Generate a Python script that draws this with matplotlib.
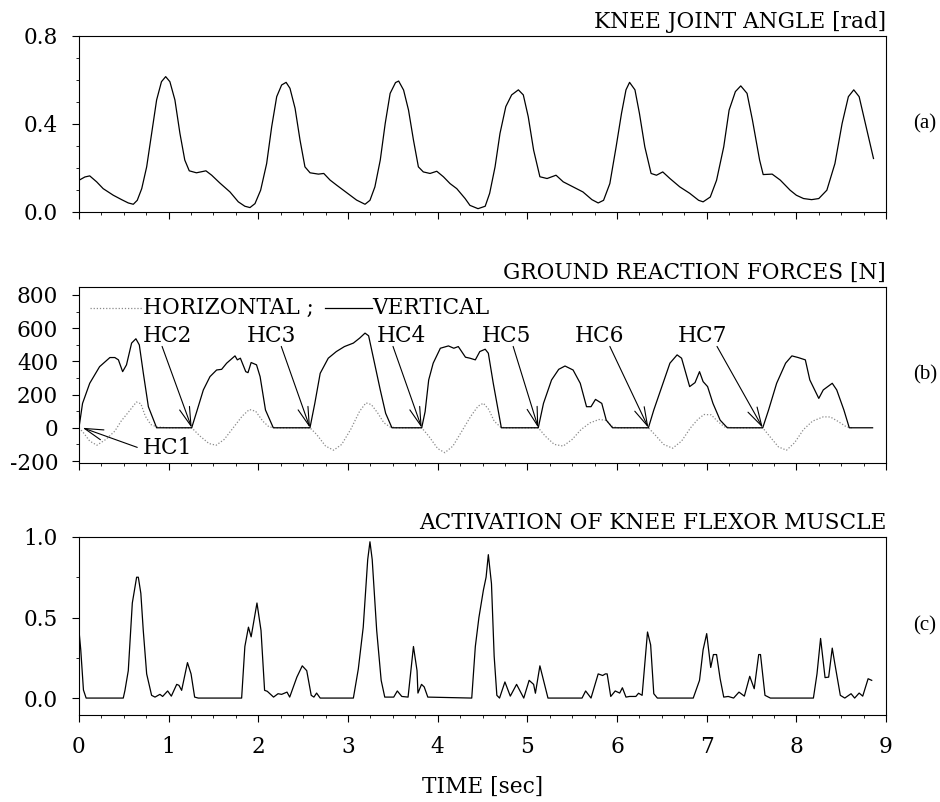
import numpy as np
import matplotlib.pyplot as plt
from matplotlib.ticker import MultipleLocator

plt.rcParams['font.family'] = ['DejaVu Serif']
plt.rcParams['axes.unicode_minus'] = False

# (a) knee joint angle [rad]
angle_t = [0.0, 0.066, 0.12, 0.197, 0.27, 0.383, 0.476, 0.55, 0.606, 0.65, 0.70, 0.755, 0.81, 0.866, 0.92, 0.967,
           1.014, 1.07, 1.126, 1.18, 1.23, 1.31, 1.416, 1.48, 1.57, 1.684, 1.777, 1.85, 1.907, 1.963, 2.026, 2.093,
           2.149, 2.205, 2.26, 2.31, 2.353, 2.41, 2.465, 2.52, 2.577, 2.67, 2.73, 2.80, 2.873, 2.985, 3.096, 3.19,
           3.245, 3.30, 3.36, 3.415, 3.47, 3.53, 3.565, 3.62, 3.675, 3.73, 3.785, 3.84, 3.915, 3.99, 4.064, 4.138,
           4.213, 4.306, 4.36, 4.45, 4.53, 4.58, 4.64, 4.695, 4.76, 4.825, 4.90, 4.955, 5.01, 5.07, 5.14, 5.22,
           5.32, 5.40, 5.51, 5.62, 5.72, 5.79, 5.85, 5.92, 5.99, 6.05, 6.10, 6.14, 6.20, 6.25, 6.31, 6.38, 6.44,
           6.51, 6.59, 6.70, 6.81, 6.91, 6.96, 7.04, 7.11, 7.19, 7.25, 7.32, 7.38, 7.45, 7.51, 7.59, 7.63, 7.73,
           7.82, 7.93, 8.00, 8.08, 8.17, 8.25, 8.34, 8.43, 8.51, 8.58, 8.64, 8.70, 8.77, 8.86]
angle_v = [0.144, 0.159, 0.164, 0.137, 0.106, 0.076, 0.056, 0.041, 0.035, 0.053, 0.106, 0.205, 0.357, 0.509, 0.592,
           0.615, 0.592, 0.509, 0.357, 0.236, 0.187, 0.178, 0.187, 0.167, 0.132, 0.091, 0.046, 0.026, 0.020, 0.038,
           0.099, 0.220, 0.387, 0.524, 0.577, 0.589, 0.562, 0.471, 0.327, 0.205, 0.178, 0.172, 0.175, 0.145, 0.122,
           0.088, 0.054, 0.035, 0.053, 0.114, 0.236, 0.402, 0.539, 0.588, 0.595, 0.554, 0.463, 0.327, 0.205, 0.182,
           0.175, 0.185, 0.160, 0.129, 0.106, 0.061, 0.030, 0.015, 0.026, 0.085, 0.205, 0.357, 0.479, 0.532, 0.555,
           0.532, 0.433, 0.281, 0.160, 0.152, 0.167, 0.137, 0.114, 0.091, 0.056, 0.041, 0.053, 0.129, 0.296, 0.448,
           0.555, 0.589, 0.555, 0.448, 0.296, 0.175, 0.167, 0.182, 0.152, 0.114, 0.085, 0.053, 0.046, 0.068, 0.144,
           0.296, 0.463, 0.547, 0.573, 0.539, 0.418, 0.236, 0.170, 0.172, 0.145, 0.099, 0.076, 0.061, 0.056, 0.061,
           0.099, 0.220, 0.402, 0.524, 0.555, 0.524, 0.402, 0.243]

# (b) ground reaction forces [N]
vert_t = [0.0, 0.04, 0.12, 0.23, 0.345, 0.40, 0.44, 0.487, 0.53, 0.587, 0.635, 0.673, 0.718, 0.774, 0.866,
          1.257, 1.313, 1.387, 1.461, 1.535, 1.591, 1.647, 1.74, 1.766, 1.80, 1.86, 1.885, 1.92, 1.98, 2.02, 2.08,
          2.167, 2.576, 2.63, 2.69, 2.78, 2.87, 2.96, 3.06, 3.13, 3.19, 3.23, 3.28, 3.36, 3.42, 3.49,
          3.822, 3.86, 3.90, 3.95, 4.03, 4.12, 4.18, 4.23, 4.31, 4.36, 4.42, 4.47, 4.53, 4.565, 4.62, 4.71,
          5.122, 5.18, 5.27, 5.35, 5.42, 5.51, 5.59, 5.66, 5.71, 5.76, 5.83, 5.88, 5.95,
          6.35, 6.41, 6.50, 6.59, 6.67, 6.72, 6.81, 6.87, 6.92, 6.96, 7.01, 7.07, 7.15, 7.23,
          7.625, 7.69, 7.78, 7.88, 7.95, 8.02, 8.10, 8.15, 8.25, 8.30, 8.40, 8.45, 8.53, 8.59, 8.85]
vert_v = [0, 147, 268, 368, 423, 423, 409, 338, 379, 510, 536, 499, 328, 127, 0,
          0, 97, 228, 308, 348, 352, 389, 433, 409, 419, 338, 332, 393, 379, 308, 107,
          0, 0, 147, 328, 419, 459, 489, 510, 540, 570, 554, 429, 228, 87, 0,
          0, 97, 288, 389, 479, 493, 479, 489, 425, 419, 409, 459, 473, 449, 268, 0,
          0, 147, 288, 352, 372, 348, 268, 127, 127, 171, 147, 46, 0,
          0, 107, 248, 389, 439, 419, 248, 272, 338, 278, 248, 147, 46, 0,
          0, 107, 268, 389, 433, 423, 409, 288, 177, 228, 268, 228, 107, 0, 0]
horiz_t = [0.0, 0.05, 0.12, 0.2, 0.3, 0.4, 0.47, 0.56, 0.64, 0.69, 0.74, 0.8, 0.87, 1.0, 1.257, 1.35, 1.45, 1.53,
           1.62, 1.72, 1.82, 1.9, 1.97, 2.05, 2.12, 2.2, 2.576, 2.65, 2.75, 2.84, 2.93, 3.03, 3.13, 3.2, 3.26, 3.33,
           3.4, 3.47, 3.55, 3.822, 3.9, 4.0, 4.08, 4.17, 4.27, 4.37, 4.45, 4.51, 4.57, 4.63, 4.7, 4.75, 5.122, 5.2,
           5.3, 5.4, 5.5, 5.6, 5.7, 5.8, 5.88, 5.94, 6.0, 6.35, 6.42, 6.52, 6.62, 6.72, 6.82, 6.9, 6.97, 7.05, 7.12,
           7.2, 7.3, 7.625, 7.7, 7.8, 7.89, 7.98, 8.08, 8.18, 8.3, 8.38, 8.46, 8.56, 8.62]
horiz_v = [0, -30, -80, -105, -70, -20, 40, 100, 155, 145, 70, 20, 5, 0, 0, -50, -95, -105,
           -70, 0, 70, 110, 100, 40, 5, 0, 0, -40, -110, -135, -100, -10, 100, 150, 140, 90,
           30, 5, 0, 0, -50, -125, -150, -110, -20, 70, 130, 148, 110, 40, 5, 0, 0, -50,
           -100, -110, -70, -10, 30, 50, 45, 10, 0, 0, -40, -100, -123, -80, 0, 50, 80, 78, 40,
           5, 0, 0, -50, -115, -135, -90, -10, 40, 66, 65, 40, 5, 0]
hc_names = ['HC2', 'HC3', 'HC4', 'HC5', 'HC6', 'HC7']
hc_times = [1.257, 2.576, 3.822, 5.122, 6.35, 7.625]

# (c) activation of knee flexor muscle
act_t = [0.0, 0.02, 0.05, 0.08, 0.494, 0.513, 0.55, 0.595, 0.643, 0.662, 0.69, 0.717, 0.755, 0.81, 0.848, 0.903,
         0.933, 0.989, 1.03, 1.09, 1.115, 1.145, 1.21, 1.25, 1.29, 1.33, 1.814, 1.85, 1.89, 1.92, 1.985, 2.03,
         2.07, 2.10, 2.17, 2.22, 2.26, 2.32, 2.35, 2.43, 2.49, 2.54, 2.59, 2.62, 2.65, 2.69, 3.06, 3.115, 3.17,
         3.22, 3.245, 3.27, 3.32, 3.37, 3.41, 3.51, 3.55, 3.60, 3.67, 3.73, 3.77, 3.78, 3.82, 3.85, 3.89, 4.38,
         4.42, 4.46, 4.51, 4.54, 4.565, 4.60, 4.63, 4.66, 4.69, 4.75, 4.81, 4.88, 4.96, 5.02, 5.07, 5.09, 5.14,
         5.19, 5.23, 5.61, 5.65, 5.71, 5.79, 5.84, 5.87, 5.89, 5.93, 5.98, 6.03, 6.06, 6.10, 6.14, 6.21, 6.24,
         6.28, 6.34, 6.375, 6.41, 6.45, 6.85, 6.92, 6.96, 7.00, 7.045, 7.075, 7.11, 7.15, 7.19, 7.24, 7.30, 7.36,
         7.42, 7.48, 7.53, 7.58, 7.60, 7.65, 7.71, 8.19, 8.23, 8.27, 8.32, 8.36, 8.40, 8.43, 8.49, 8.54, 8.61,
         8.65, 8.70, 8.74, 8.80, 8.84]
act_v = [0.42, 0.30, 0.05, 0.0, 0.0, 0.048, 0.17, 0.59, 0.75, 0.75, 0.65, 0.42, 0.15, 0.017, 0.006, 0.023,
         0.01, 0.044, 0.012, 0.085, 0.079, 0.048, 0.22, 0.15, 0.006, 0.0, 0.0, 0.32, 0.44, 0.38, 0.59, 0.42,
         0.048, 0.042, 0.006, 0.027, 0.023, 0.037, 0.006, 0.13, 0.20, 0.17, 0.017, 0.006, 0.031, 0.0, 0.0, 0.18, 0.44,
         0.86, 0.97, 0.86, 0.42, 0.11, 0.006, 0.006, 0.044, 0.01, 0.006, 0.32, 0.17, 0.031, 0.085, 0.069, 0.006, 0.0,
         0.32, 0.50, 0.67, 0.75, 0.89, 0.71, 0.26, 0.017, 0.0, 0.10, 0.012, 0.085, 0.0, 0.11, 0.085, 0.03, 0.20,
         0.09, 0.0, 0.0, 0.044, 0.0, 0.15, 0.14, 0.15, 0.15, 0.01, 0.044, 0.031, 0.064, 0.006, 0.01, 0.01, 0.03,
         0.017, 0.41, 0.33, 0.027, 0.0, 0.0, 0.11, 0.30, 0.40, 0.19, 0.27, 0.27, 0.12, 0.006, 0.01, 0.0, 0.037,
         0.012, 0.135, 0.058, 0.27, 0.27, 0.017, 0.0, 0.0, 0.15, 0.37, 0.127, 0.13, 0.31, 0.21, 0.017, 0.0, 0.027,
         0.0, 0.031, 0.012, 0.12, 0.11]

fs = 15.6
fig = plt.figure(figsize=(9.4, 8.02), dpi=100)
ax_a = fig.add_axes([0.084, 0.7357, 0.8586, 0.2195])
ax_b = fig.add_axes([0.084, 0.4227, 0.8586, 0.2195])
ax_c = fig.add_axes([0.084, 0.1085, 0.8586, 0.2220])

for ax in (ax_a, ax_b, ax_c):
    ax.set_xlim(0, 9)
    ax.xaxis.set_major_locator(MultipleLocator(1))
    ax.xaxis.set_minor_locator(MultipleLocator(0.25))
    ax.tick_params(which='major', direction='out', length=5, width=0.8, labelsize=fs, pad=10)
    ax.tick_params(which='minor', direction='out', length=2.5, width=0.6)
    for s in ax.spines.values():
        s.set_linewidth(0.8)

ax_a.plot(angle_t, angle_v, color='black', lw=0.9)
ax_a.set_ylim(0, 0.8)
ax_a.yaxis.set_major_locator(MultipleLocator(0.4))
ax_a.yaxis.set_minor_locator(MultipleLocator(0.1))
ax_a.yaxis.set_major_formatter(plt.FormatStrFormatter('%.1f'))
ax_a.set_xticklabels([])
ax_a.set_title('KNEE JOINT ANGLE [rad]', loc='right', fontsize=fs, pad=6)

ax_b.plot(horiz_t, horiz_v, color='#8a8a8a', lw=0.9, ls=(0, (1, 1.5)))
ax_b.plot(vert_t, vert_v, color='black', lw=0.9)
ax_b.set_ylim(-212, 848)
ax_b.yaxis.set_major_locator(MultipleLocator(200))
ax_b.yaxis.set_minor_locator(MultipleLocator(100))
ax_b.set_xticklabels([])
ax_b.set_title('GROUND REACTION FORCES [N]', loc='right', fontsize=fs, pad=6)
# legend drawn inline like the original
ax_b.plot([0.014, 0.078], [0.88, 0.88], transform=ax_b.transAxes, color='#8a8a8a', lw=0.9, ls=(0, (1, 1.5)))
ax_b.text(0.079, 0.88, 'HORIZONTAL ;', transform=ax_b.transAxes, fontsize=fs, va='center', ha='left')
ax_b.plot([0.305, 0.363], [0.88, 0.88], transform=ax_b.transAxes, color='black', lw=0.9)
ax_b.text(0.364, 0.88, 'VERTICAL', transform=ax_b.transAxes, fontsize=fs, va='center', ha='left')

arrow = dict(arrowstyle='->,head_length=0.9,head_width=0.25', color='black', lw=0.8,
             shrinkA=0, shrinkB=0, mutation_scale=15)
ax_b.annotate('', xy=(0.04, 0), xytext=(0.65, -118), arrowprops=arrow)
ax_b.text(0.714, -124, 'HC1', fontsize=fs, va='center', ha='left')
text_off = [0.543, 0.706, 0.502, 0.632, 0.82, 0.945]
tail_off = [0.33, 0.32, 0.32, 0.28, 0.43, 0.51]
for name, tc, to, ta in zip(hc_names, hc_times, text_off, tail_off):
    ax_b.text(tc - to, 552, name, fontsize=fs, va='center', ha='left')
    ax_b.annotate('', xy=(tc, 0), xytext=(tc - ta, 490), arrowprops=arrow)

ax_c.plot(act_t, act_v, color='black', lw=0.9)
ax_c.set_ylim(-0.105, 1.0)
ax_c.yaxis.set_major_locator(MultipleLocator(0.5))
ax_c.yaxis.set_minor_locator(MultipleLocator(0.25))
ax_c.yaxis.set_major_formatter(plt.FormatStrFormatter('%.1f'))
ax_c.set_title('ACTIVATION OF KNEE FLEXOR MUSCLE', loc='right', fontsize=fs, pad=6)
ax_c.set_xlabel('TIME [sec]', fontsize=fs, labelpad=13)

for ax, lab in ((ax_a, '(a)'), (ax_b, '(b)'), (ax_c, '(c)')):
    ax.text(1.048, 0.5, lab, transform=ax.transAxes, fontsize=15, family='Liberation Serif',
            va='center', ha='center')

fig.savefig('out.png', dpi=100)
